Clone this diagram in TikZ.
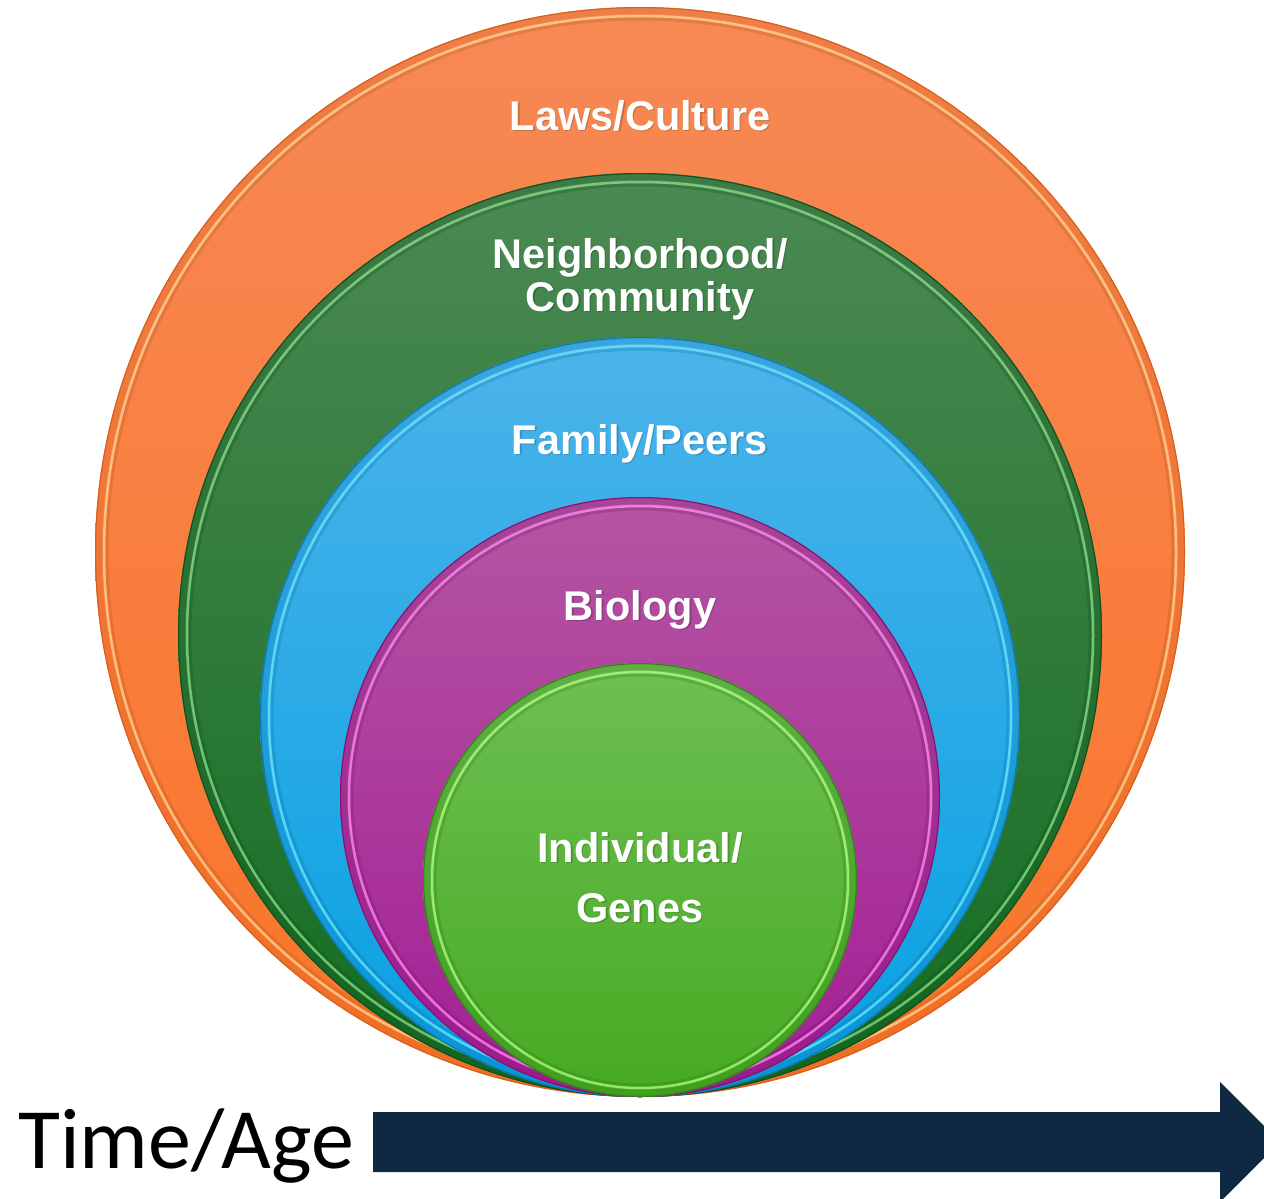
\documentclass[tikz,border=0pt]{standalone}
\usepackage{fontspec}
\setmainfont{Liberation Sans}
\newfontfamily\calfont{Carlito}
\definecolor{orT}{RGB}{247,137,86}
\definecolor{orB}{RGB}{250,116,40}
\definecolor{orH}{RGB}{255,214,150}
\definecolor{orE}{RGB}{214,96,30}
\definecolor{dgT}{RGB}{76,138,84}
\definecolor{dgB}{RGB}{18,108,32}
\definecolor{dgH}{RGB}{140,222,140}
\definecolor{dgE}{RGB}{20,80,28}
\definecolor{blT}{RGB}{76,180,234}
\definecolor{blB}{RGB}{6,160,226}
\definecolor{blH}{RGB}{110,228,255}
\definecolor{blE}{RGB}{10,120,180}
\definecolor{puT}{RGB}{180,86,162}
\definecolor{puB}{RGB}{164,30,150}
\definecolor{puH}{RGB}{255,140,240}
\definecolor{puE}{RGB}{130,20,120}
\definecolor{igT}{RGB}{110,192,82}
\definecolor{igB}{RGB}{70,170,34}
\definecolor{igH}{RGB}{176,255,128}
\definecolor{igE}{RGB}{50,130,25}
\definecolor{navy}{RGB}{16,41,66}
\tikzset{
  lbl/.style={text=white, font=\bfseries\fontsize{41.5}{44}\selectfont, anchor=base, inner sep=0pt},
  shd/.style={text=black, opacity=0.18, font=\bfseries\fontsize{41.5}{44}\selectfont, anchor=base, inner sep=0pt},
}
\newcommand{\bevelcircle}[6]{%
  % #1 center y, #2 radius, #3 top, #4 bottom, #5 highlight, #6 edge
  \shade[top color=#3, bottom color=#4] (640,#1) circle (#2pt);
  \draw[#6, line width=6pt, opacity=0.25] (640,#1) circle (#2pt-4pt);
  \draw[#5, line width=2.5pt, opacity=0.75] (640,#1) circle (#2pt-9pt);
  \draw[#4!70!black, line width=3pt, opacity=0.25] (640,#1) circle (#2pt-12pt);
  \draw[#6, line width=1.2pt] (640,#1) circle (#2pt-0.6pt);
}
\newcommand{\lab}[4]{%
  \node[shd] at (#2+1.5,#3+1.5) {#4};
  \node[lbl] (#1) at (#2,#3) {#4};
}
\begin{document}
\begin{tikzpicture}[x=1pt,y=-1pt]
\useasboundingbox (0,0) rectangle (1264,1199);
\clip (0,0) rectangle (1264,1199);
\bevelcircle{552}{545}{orT}{orB}{orH}{orE}
\bevelcircle{635}{462}{dgT}{dgB}{dgH}{dgE}
\bevelcircle{717}{380}{blT}{blB}{blH}{blE}
\bevelcircle{797}{300}{puT}{puB}{puH}{puE}
\bevelcircle{880}{217}{igT}{igB}{igH}{igE}
\lab{laws}{640}{130}{Laws/Culture}
\lab{neigh}{640}{268}{Neighborhood/}
\lab{comm}{640}{311}{Community}
\lab{fam}{640}{454}{Family/Peers}
\lab{bio}{640}{620}{Biology}
\lab{indiv}{640}{862}{Individual/}
\lab{genes}{640}{922}{Genes}
\fill[navy] (373,1112) -- (1220,1112) -- (1220,1082) -- (1280,1142) -- (1220,1202) -- (1220,1172) -- (373,1172) -- cycle;
\node[anchor=base west, inner sep=0pt, font=\calfont\fontsize{86}{90}\selectfont] (time) at (18,1168) {Time/Age};
\end{tikzpicture}
\end{document}
